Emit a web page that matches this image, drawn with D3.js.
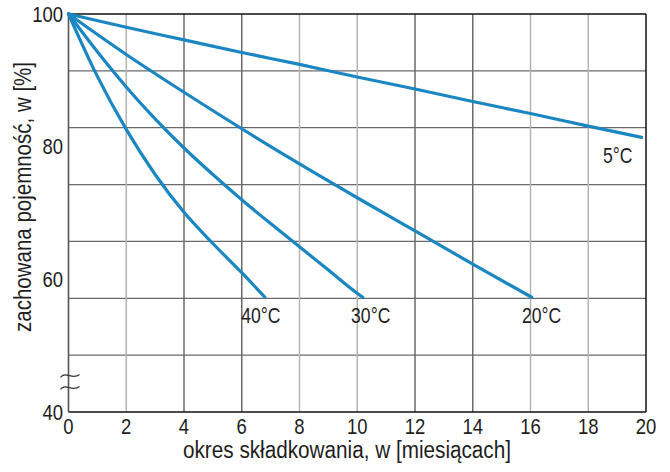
<!DOCTYPE html>
<html>
<head>
<meta charset="utf-8">
<script src="https://cdn.jsdelivr.net/npm/d3@7"></script>
<style>
  body { margin: 0; background: #fff; }
  text { font-family: "Liberation Sans", Arial, sans-serif; fill: #1e1e1e; }
</style>
</head>
<body>
<script>
// storage time (months) and retained capacity (%)
const months5  = [0, 2, 4, 6, 8, 10, 12, 14, 16, 18, 19.85];
const cap5     = [100, 98.0, 96.1, 94.2, 92.4, 90.5, 88.7, 86.8, 85.0, 83.1, 81.4];
const months20 = [0, 2, 4, 6, 8, 10, 12, 14, 16.04];
const cap20    = [100, 93.9, 88.2, 82.7, 77.4, 72.3, 67.3, 62.3, 57.3];
const months30 = [0, 1, 2, 3, 4, 5, 6, 7, 8, 9, 10, 10.19];
const cap30    = [100, 94.3, 89.0, 84.2, 79.8, 75.8, 72.0, 68.4, 64.9, 61.4, 57.9, 57.3];
const months40 = [0, 1, 2, 3, 4, 5, 6, 6.8];
const cap40    = [100, 90.6, 82.6, 75.8, 70.1, 65.4, 61.0, 57.3];

const seriesNames = ["5°C", "20°C", "30°C", "40°C"];
const xTicks = [0, 2, 4, 6, 8, 10, 12, 14, 16, 18, 20];
const yTicks = [100, 80, 60, 40];

const W = 670, H = 472;
const svg = d3.select("body").append("svg")
  .attr("width", W).attr("height", H);

let x = d3.scaleLinear().domain([0, 20]).range([68.5, 646]);
let y = d3.scaleLinear().domain([40, 100]).range([412, 14]);

// condensed-looking text: regular face squeezed horizontally
function label(px, py, str, size, anchor, sx) {
  return svg.append("text")
    .attr("transform", `translate(${px},${py}) scale(${sx},1)`)
    .attr("text-anchor", anchor).attr("font-size", size)
    .text(str);
}

// horizontal grid: 7 equal bands
let hGrid = d3.range(1, 7).map(i => 40 + i * 60 / 7);
svg.selectAll("line.hg").data(hGrid).enter().append("line")
  .attr("x1", x(0)).attr("x2", x(20))
  .attr("y1", d => y(d)).attr("y2", d => y(d))
  .attr("stroke", "#6a6a6a").attr("stroke-width", 1.3);

// vertical grid (some lines printed lighter in the original)
const darkV = [4, 6, 12, 14];
svg.selectAll("line.vg").data(xTicks.slice(1, -1)).enter().append("line")
  .attr("x1", d => x(d)).attr("x2", d => x(d))
  .attr("y1", y(100)).attr("y2", y(40))
  .attr("stroke", d => darkV.includes(d) ? "#6a6a6a" : "#b4b4b4")
  .attr("stroke-width", 1.5);

// frame
svg.append("line").attr("x1", x(0)).attr("x2", x(20)).attr("y1", y(100)).attr("y2", y(100))
  .attr("stroke", "#111").attr("stroke-width", 1.5);
svg.append("line").attr("x1", x(20)).attr("x2", x(20)).attr("y1", y(100)).attr("y2", y(40))
  .attr("stroke", "#111").attr("stroke-width", 1.5);
svg.append("line").attr("x1", x(0)).attr("x2", x(20)).attr("y1", y(40)).attr("y2", y(40))
  .attr("stroke", "#111").attr("stroke-width", 1.6);
svg.append("line").attr("x1", x(0)).attr("x2", x(0)).attr("y1", y(100)).attr("y2", y(40))
  .attr("stroke", "#555").attr("stroke-width", 1.6);

// axis break marks
[45.5, 43.7].forEach(v => {
  let cx = x(0) + 1, cy = y(v);
  svg.append("path")
    .attr("d", `M${cx - 9},${cy + 2} C${cx - 4},${cy - 5} ${cx + 3},${cy + 5} ${cx + 10},${cy - 1}`)
    .attr("fill", "none").attr("stroke", "#333").attr("stroke-width", 1.2);
});

// tick labels
xTicks.forEach(d => label(x(d), 433.5, d, 21.5, "middle", 0.86));
yTicks.forEach(d => label(63, y(d) + 7.5, d, 21.5, "end", 0.86));

// axis titles
svg.append("text").attr("x", 347).attr("y", 458)
  .attr("text-anchor", "middle").attr("font-size", 23)
  .attr("textLength", 328).attr("lengthAdjust", "spacingAndGlyphs")
  .text("okres składkowania, w [miesiącach]");
svg.append("text")
  .attr("transform", "translate(31,197) rotate(-90)")
  .attr("text-anchor", "middle").attr("font-size", 23)
  .attr("textLength", 270).attr("lengthAdjust", "spacingAndGlyphs")
  .text("zachowana pojemność, w [%]");

// curves
const series = [
  { name: seriesNames[0], xs: months5,  ys: cap5 },
  { name: seriesNames[1], xs: months20, ys: cap20 },
  { name: seriesNames[2], xs: months30, ys: cap30 },
  { name: seriesNames[3], xs: months40, ys: cap40 }
];
let line = d3.line()
  .x(d => x(d[0])).y(d => y(d[1]))
  .curve(d3.curveMonotoneX);
svg.selectAll("path.curve").data(series).enter().append("path")
  .attr("d", s => line(s.xs.map((m, i) => [m, s.ys[i]])))
  .attr("fill", "none").attr("stroke", "#1a86c2")
  .attr("stroke-width", 3.2).attr("stroke-linecap", "round");

// curve labels, placed below each curve's end
const labelOff = [
  { dx: -24, dy: 26 },
  { dx: 10, dy: 26 },
  { dx: 8, dy: 26 },
  { dx: -4, dy: 26 }
];
series.forEach((s, i) => {
  let n = s.xs.length - 1;
  label(x(s.xs[n]) + labelOff[i].dx, y(s.ys[n]) + labelOff[i].dy, s.name, 22, "middle", 0.8);
});
</script>
</body>
</html>
